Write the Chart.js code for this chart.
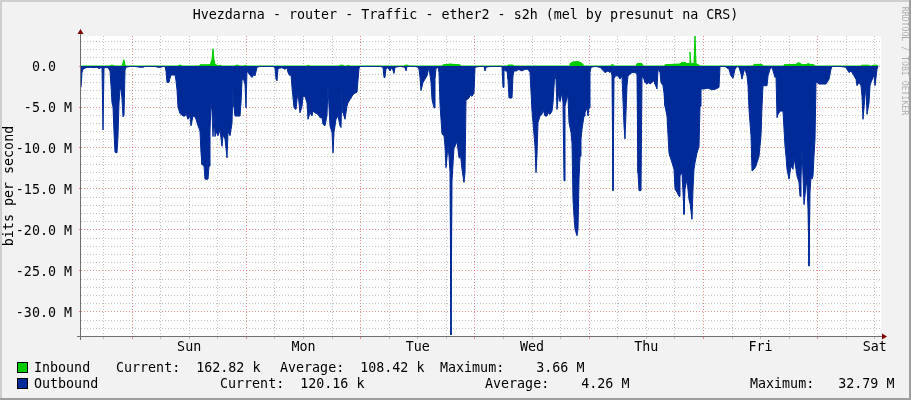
<!DOCTYPE html>
<html>
<head>
<meta charset="utf-8">
<script src="https://cdn.jsdelivr.net/npm/chart.js@4/dist/chart.umd.min.js"></script>
<style>
  html, body { margin: 0; padding: 0; background: #f2f2f2; }
  canvas { display: block; }
</style>
</head>
<body>
<canvas id="chart" width="911" height="400"></canvas>
<script>
// one sample = 1/800 of a week (12.6 min); sample 51 is Sun 00:00
// outbound traffic, Mbit/s (drawn below zero)
let outSlot = [
  0, 1, 2, 5, 9, 13, 16, 18, 20, 21,
  22, 23, 27, 29, 30, 31, 32, 33, 34, 36,
  37, 38, 39, 40, 41, 42, 43, 44, 45, 49,
  54, 59, 62, 64, 69, 74, 77, 80, 82, 84,
  85, 86, 88, 89, 90, 94, 95, 96, 97, 99,
  102, 104, 105, 107, 109, 110, 112, 114, 115, 117,
  118, 119, 120, 121, 123, 124, 127, 128, 129, 130,
  131, 132, 133, 134, 135, 137, 139, 141, 142, 144,
  146, 147, 149, 151, 152, 153, 154, 159, 160, 161,
  162, 164, 165, 166, 167, 169, 171, 173, 174, 176,
  179, 184, 189, 192, 194, 195, 196, 197, 201, 204,
  206, 207, 209, 210, 211, 213, 215, 216, 217, 219,
  221, 222, 224, 226, 227, 229, 231, 232, 234, 237,
  239, 241, 242, 244, 246, 247, 248, 249, 251, 252,
  253, 255, 257, 259, 260, 261, 262, 264, 266, 267,
  269, 271, 272, 274, 276, 278, 279, 284, 289, 294,
  299, 302, 303, 304, 305, 307, 309, 311, 313, 314,
  319, 324, 325, 326, 329, 334, 337, 338, 339, 340,
  342, 344, 346, 348, 350, 351, 353, 354, 355, 357,
  358, 359, 361, 363, 364, 365, 367, 368, 369, 370,
  371, 373, 374, 376, 378, 379, 381, 383, 384, 385,
  386, 388, 389, 391, 393, 394, 399, 403, 404, 405,
  409, 414, 419, 421, 422, 423, 424, 426, 427, 428,
  431, 432, 433, 436, 437, 441, 444, 447, 449, 451,
  452, 454, 455, 456, 457, 459, 461, 462, 464, 466,
  467, 469, 471, 472, 474, 475, 476, 477, 478, 479,
  481, 482, 483, 484, 486, 487, 488, 490, 491, 492,
  493, 494, 496, 497, 498, 499, 500, 501, 503, 504,
  506, 507, 508, 509, 510, 514, 519, 524, 527, 529,
  530, 531, 532, 533, 534, 537, 539, 541, 543, 544,
  546, 547, 549, 551, 554, 556, 557, 558, 560, 561,
  563, 564, 566, 568, 569, 571, 573, 574, 576, 577,
  579, 580, 582, 583, 584, 586, 588, 589, 591, 593,
  594, 596, 598, 599, 601, 602, 603, 604, 606, 608,
  609, 611, 612, 613, 614, 616, 618, 619, 620, 623,
  627, 631, 635, 638, 639, 644, 648, 650, 652, 654,
  656, 658, 660, 661, 663, 664, 666, 667, 668, 670,
  671, 673, 675, 676, 678, 680, 681, 682, 684, 686,
  687, 689, 691, 693, 694, 695, 696, 697, 699, 702,
  704, 705, 706, 708, 709, 710, 712, 713, 715, 716,
  718, 719, 720, 721, 722, 723, 725, 726, 727, 728,
  729, 730, 731, 732, 733, 734, 735, 736, 738, 742,
  745, 746, 748, 750, 751, 759, 765, 766, 768, 770,
  771, 773, 775, 776, 778, 780, 781, 782, 784, 785,
  786, 788, 789, 790, 792, 793, 794, 796, 797
];
let outMbps = [
  2.6, 0.8, 0.4, 0.2, 0.15, 0.2, 0.15, 0.3, 0.2, 0.2,
  7.8, 0.2, 0.2, 0.6, 2.4, 4.5, 5.0, 8.1, 10.5, 10.6,
  8.5, 4.5, 2.8, 2.8, 4.0, 6.2, 6.0, 0.5, 0.15, 0.05,
  0.05, 0.15, 0.15, 0.05, 0.05, 0.05, 0.15, 0.15, 0.05, 0.05,
  0.6, 2.0, 2.0, 1.5, 1.1, 1.1, 1.8, 2.9, 5.0, 5.8,
  6.1, 6.1, 5.8, 6.5, 6.1, 7.3, 6.1, 6.2, 6.5, 7.3,
  7.6, 8.0, 10.6, 12.0, 12.2, 13.8, 13.8, 12.2, 8.0, 4.5,
  5.5, 8.6, 6.0, 8.6, 8.0, 8.5, 7.8, 9.8, 8.4, 8.9,
  11.2, 8.0, 8.5, 7.0, 2.4, 5.0, 6.1, 6.1, 4.5, 1.8,
  1.4, 2.2, 5.1, 0.5, 0.8, 1.1, 1.4, 1.0, 1.2, 0.15,
  0.05, 0.05, 0.05, 0.05, 0.2, 1.6, 1.8, 0.3, 0.2, 0.4,
  0.2, 0.8, 1.2, 1.0, 2.6, 5.1, 5.3, 4.1, 3.3, 5.7,
  4.9, 3.7, 3.7, 4.5, 6.5, 5.7, 6.1, 5.5, 5.7, 5.9,
  6.3, 6.3, 7.1, 7.3, 6.0, 2.4, 5.0, 7.3, 8.1, 10.6,
  8.1, 6.5, 6.1, 7.3, 7.5, 2.8, 5.7, 6.5, 4.9, 4.5,
  4.1, 3.7, 3.5, 3.3, 3.2, 0.3, 0.05, 0.05, 0.05, 0.05,
  0.05, 0.15, 1.4, 1.4, 0.3, 0.2, 0.6, 0.15, 0.9, 0.15,
  0.05, 0.15, 0.6, 0.05, 0.05, 0.05, 0.15, 0.4, 1.4, 3.0,
  2.0, 1.6, 1.2, 0.15, 2.0, 4.1, 5.1, 1.6, 0.3, 0.15,
  0.8, 4.7, 8.3, 8.5, 9.8, 12.4, 9.8, 11.0, 13.0, 32.8,
  14.0, 10.0, 9.8, 9.2, 11.2, 10.2, 12.6, 14.2, 13.0, 4.1,
  4.1, 3.9, 3.5, 3.7, 3.3, 0.15, 0.05, 0.05, 0.6, 0.15,
  0.05, 0.05, 0.05, 0.05, 2.6, 0.15, 0.6, 0.6, 1.6, 3.9,
  3.9, 1.2, 0.6, 0.6, 0.4, 0.6, 0.4, 0.4, 0.8, 5.5,
  6.9, 9.8, 13.0, 10.8, 6.9, 6.1, 5.9, 5.3, 6.1, 6.1,
  5.7, 5.9, 5.5, 4.5, 0.6, 1.6, 5.3, 4.1, 2.8, 4.3,
  3.3, 4.5, 14.0, 4.9, 3.9, 3.7, 6.9, 8.1, 9.4, 16.3,
  18.3, 19.9, 20.7, 19.9, 13.8, 11.0, 8.9, 7.7, 6.1, 5.7,
  5.1, 6.1, 5.1, 0.8, 0.15, 0.05, 0.15, 0.8, 0.6, 0.8,
  0.6, 1.2, 15.2, 1.4, 1.2, 1.2, 1.6, 1.2, 7.3, 8.9,
  2.4, 1.2, 1.0, 0.8, 0.8, 1.0, 13.0, 15.2, 15.2, 1.2,
  1.6, 2.0, 2.2, 2.0, 2.2, 2.0, 1.8, 2.2, 2.8, 0.4,
  0.8, 2.0, 2.4, 3.3, 4.9, 6.1, 10.6, 11.0, 11.8, 12.6,
  15.0, 15.4, 15.9, 13.4, 13.0, 15.4, 18.1, 15.0, 13.8, 16.3,
  16.7, 18.7, 15.0, 12.6, 11.8, 10.6, 9.8, 4.9, 2.8, 2.8,
  2.7, 2.9, 2.8, 2.6, 0.05, 0.05, 0.4, 1.2, 1.5, 0.4,
  0.05, 0.15, 1.0, 1.6, 0.6, 0.4, 1.2, 2.4, 5.3, 8.5,
  12.8, 12.6, 12.2, 11.8, 11.0, 8.5, 4.9, 2.4, 2.4, 2.4,
  1.2, 0.4, 0.15, 1.0, 1.4, 1.2, 6.3, 5.9, 5.5, 5.5,
  9.8, 11.0, 12.6, 13.8, 13.0, 12.2, 12.6, 11.2, 12.6, 13.4,
  14.2, 15.9, 13.8, 10.0, 13.4, 16.9, 14.6, 14.4, 17.5, 24.4,
  15.4, 13.4, 13.8, 13.4, 11.0, 8.9, 2.0, 2.0, 2.2, 2.2,
  2.2, 2.0, 1.6, 0.4, 0.05, 0.05, 0.15, 0.4, 0.8, 0.6,
  0.8, 1.2, 1.6, 2.4, 2.0, 2.4, 3.7, 6.5, 3.7, 2.4,
  5.9, 4.5, 2.4, 2.0, 1.4, 1.2, 2.4, 0.4, 0.05
];

// inbound traffic, Mbit/s
let inSlot = [
  0, 29, 30, 32, 33, 41, 42, 43, 44, 45,
  97, 98, 100, 101, 118, 119, 129, 131, 132, 133,
  134, 136, 137, 139, 141, 154, 155, 157, 158, 163,
  164, 166, 226, 227, 229, 258, 259, 262, 263, 266,
  267, 269, 323, 324, 327, 328, 361, 362, 367, 369,
  372, 379, 380, 426, 427, 432, 433, 488, 489, 492,
  497, 500, 502, 503, 530, 531, 532, 555, 556, 561,
  562, 583, 584, 591, 599, 601, 604, 606, 608, 609,
  610, 613, 614, 615, 618, 619, 672, 673, 681, 682,
  702, 703, 715, 717, 719, 721, 726, 727, 729, 733,
  734, 780, 781, 788, 789, 791, 792, 796, 797
];
let inMbps = [
  0, 0, 0.1, 0.1, 0, 0, 0.4, 0.75, 0.1, 0,
  0, 0.1, 0.1, 0, 0, 0.15, 0.15, 0.8, 2.1, 0.8,
  0.2, 0.1, 0, 0.1, 0, 0, 0.1, 0.1, 0, 0,
  0.1, 0, 0, 0.1, 0, 0, 0.1, 0.1, 0, 0,
  0.1, 0, 0, 0.1, 0.1, 0, 0, 0.15, 0.2, 0.25,
  0.2, 0.15, 0, 0, 0.12, 0.12, 0, 0, 0.3, 0.5,
  0.55, 0.4, 0.2, 0, 0, 0.2, 0, 0, 0.3, 0.3,
  0, 0, 0.15, 0.2, 0.25, 0.45, 0.45, 0.3, 0.3, 1.7,
  0.3, 0.3, 3.66, 0.3, 0.1, 0, 0, 0.2, 0.2, 0,
  0, 0.15, 0.2, 0.4, 0.35, 0.15, 0.2, 0.3, 0.2, 0.15,
  0, 0, 0.1, 0.1, 0, 0, 0.1, 0.1, 0
];

let dayNames = ['Sun', 'Mon', 'Tue', 'Wed', 'Thu', 'Fri', 'Sat'];
let legendNames = ['Inbound', 'Outbound'];
let legendColors = ['#00cc00', '#002a97'];
let legendCurrent = ['162.82 k', '120.16 k'];
let legendAverage = ['108.42 k', '4.26 M'];
let legendMaximum = ['3.66 M', '32.79 M'];

const HOURS_PER_SLOT = 168 / 800;
const MIDNIGHT_SLOT = 51;
function toHour(slot) { return (slot - MIDNIGHT_SLOT) * HOURS_PER_SLOT; }

const MONO = "'DejaVu Sans Mono', monospace";
const gridMinor = 'rgba(143,143,143,0.55)';
const gridMajor = 'rgba(222,48,48,0.55)';

let outData = outSlot.map((s, i) => ({ x: toHour(s), y: -outMbps[i] }));
let inData = inSlot.map((s, i) => ({ x: toHour(s), y: inMbps[i] }));

function isMidnight(v) { return ((Math.round(v) % 24) + 24) % 24 === 0; }
function isNoon(v) { return ((Math.round(v) % 24) + 24) % 24 === 12; }
function isMajorY(v) { return Math.round(v) % 5 === 0; }

const rrdDecor = {
  id: 'rrdDecor',
  beforeDraw(chart) {
    const { ctx, width, height, chartArea: a } = chart;
    ctx.save();
    ctx.fillStyle = '#f2f2f2';
    ctx.fillRect(0, 0, width, height);
    ctx.fillStyle = '#cfcfcf';
    ctx.fillRect(0, 0, width, 2);
    ctx.fillRect(0, 0, 2, height);
    ctx.fillStyle = '#9e9e9e';
    ctx.fillRect(0, height - 2, width, 2);
    ctx.fillRect(width - 2, 0, 2, height);
    ctx.fillStyle = '#ffffff';
    ctx.fillRect(a.left, a.top, a.right - a.left, a.bottom - a.top);
    ctx.restore();
  },
  afterDatasetsDraw(chart) {
    const { ctx, chartArea: a } = chart;
    const ax = a.left - 0.5, ay = a.bottom + 0.5;
    ctx.save();
    ctx.strokeStyle = '#707070';
    ctx.lineWidth = 1;
    ctx.beginPath();
    ctx.moveTo(ax, a.bottom + 4);
    ctx.lineTo(ax, a.top - 3);
    ctx.moveTo(a.left - 4, ay);
    ctx.lineTo(a.right + 2, ay);
    ctx.stroke();
    ctx.fillStyle = '#7f0000';
    ctx.beginPath();
    ctx.moveTo(ax, a.top - 7);
    ctx.lineTo(ax - 3, a.top - 2);
    ctx.lineTo(ax + 3, a.top - 2);
    ctx.closePath();
    ctx.fill();
    ctx.beginPath();
    ctx.moveTo(a.right + 6, ay);
    ctx.lineTo(a.right + 1, ay - 3);
    ctx.lineTo(a.right + 1, ay + 3);
    ctx.closePath();
    ctx.fill();
    ctx.restore();
  },
  afterDraw(chart) {
    const { ctx } = chart;
    ctx.save();
    ctx.fillStyle = '#000';
    ctx.font = '13.33px ' + MONO;
    ctx.textBaseline = 'alphabetic';
    ctx.textAlign = 'center';
    ctx.fillText('Hvezdarna - router - Traffic - ether2 - s2h (mel by presunut na CRS)', 465.5, 19);

    // legend
    ctx.textAlign = 'left';
    const rowY = [372, 388];
    const cols = [[116, 280, 440], [220, 485, 750]];
    legendNames.forEach((name, i) => {
      const y = rowY[i];
      ctx.fillStyle = legendColors[i];
      ctx.fillRect(18, y - 9, 9, 9);
      ctx.strokeStyle = '#000';
      ctx.lineWidth = 1;
      ctx.strokeRect(17.5, y - 9.5, 10, 10);
      ctx.fillStyle = '#000';
      ctx.fillText(name, 34, y);
      ctx.fillText('Current:  ' + legendCurrent[i].padStart(8), cols[i][0], y);
      ctx.fillText('Average:  ' + legendAverage[i].padStart(8), cols[i][1], y);
      ctx.fillText('Maximum:  ' + legendMaximum[i].padStart(8), cols[i][2], y);
    });

    // watermark
    ctx.translate(904, 61);
    ctx.rotate(Math.PI / 2);
    ctx.font = '8.2px ' + MONO;
    ctx.fillStyle = 'rgba(0,0,0,0.3)';
    ctx.textAlign = 'center';
    ctx.textBaseline = 'middle';
    ctx.fillText('RRDTOOL / TOBI OETIKER', 0, 0);
    ctx.restore();
  }
};

new Chart(document.getElementById('chart'), {
  type: 'line',
  data: {
    datasets: [
      {
        label: 'Outbound',
        data: outData,
        borderColor: '#002a97',
        backgroundColor: '#002a97',
        borderWidth: 1,
        fill: 'origin',
        pointRadius: 0,
        tension: 0
      },
      {
        label: 'Inbound',
        data: inData,
        borderColor: '#00cc00',
        backgroundColor: '#00cc00',
        borderWidth: 1,
        fill: 'origin',
        pointRadius: 0,
        tension: 0
      }
    ]
  },
  options: {
    responsive: false,
    animation: false,
    layout: { padding: { top: 36, right: 30, left: 0, bottom: 0 } },
    plugins: {
      legend: { display: false },
      tooltip: { enabled: false }
    },
    scales: {
      x: {
        type: 'linear',
        min: toHour(0),
        max: toHour(800),
        afterBuildTicks: scale => {
          const t = [];
          for (let h = -6; h <= 156; h += 6) t.push({ value: h });
          scale.ticks = t;
        },
        afterFit: scale => { scale.height = 64; },
        ticks: {
          autoSkip: false,
          maxRotation: 0,
          padding: 1,
          color: '#000',
          font: { family: MONO, size: 13.33 },
          callback: v => (isNoon(v) ? dayNames[Math.floor(v / 24)] : '')
        },
        grid: {
          color: c => (c.tick && isMidnight(c.tick.value) ? gridMajor : gridMinor),
          tickColor: c => (c.tick && isMidnight(c.tick.value) ? gridMajor : gridMinor),
          tickLength: 3,
          lineWidth: 1
        },
        border: { display: false, dash: [1, 2] }
      },
      y: {
        min: -32.93,
        max: 3.66,
        afterBuildTicks: scale => {
          const t = [];
          for (let v = -32; v <= 3; v++) t.push({ value: v });
          scale.ticks = t;
        },
        afterFit: scale => { scale.width = 81; },
        ticks: {
          autoSkip: false,
          padding: 7,
          labelOffset: 2,
          color: '#000',
          font: { family: MONO, size: 13.33 },
          callback: v => (v === 0 ? '0.0  ' : (isMajorY(v) && v < 0 ? v.toFixed(1) + ' M' : ''))
        },
        grid: {
          color: c => (c.tick && isMajorY(c.tick.value) ? gridMajor : gridMinor),
          tickColor: c => (c.tick && isMajorY(c.tick.value) ? gridMajor : 'rgba(0,0,0,0)'),
          tickLength: 2,
          lineWidth: 1
        },
        border: { display: false, dash: [1, 2] },
        title: {
          display: true,
          text: 'bits per second',
          color: '#000',
          font: { family: MONO, size: 13.33 },
          padding: { top: 2, bottom: 0 }
        }
      }
    }
  },
  plugins: [rrdDecor]
});
</script>
</body>
</html>
